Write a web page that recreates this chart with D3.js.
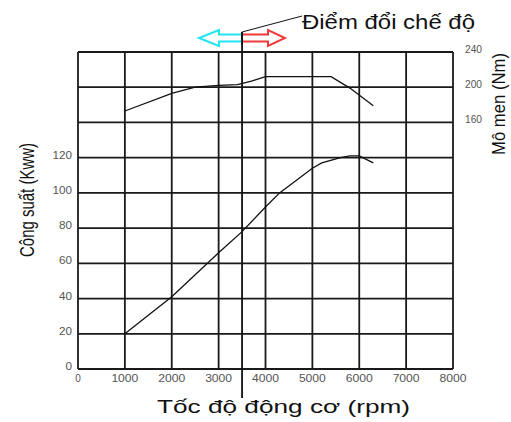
<!DOCTYPE html>
<html><head><meta charset="utf-8">
<script src="https://cdn.jsdelivr.net/npm/d3@7"></script>
<style>body{margin:0;background:#fff}svg{display:block;font-family:"Liberation Sans",Arial,sans-serif}</style>
</head><body><svg id="c" width="511" height="422"></svg>
<script>
const powerRpm = [1000,2000,3000,3500,4000,4300,5000,5200,5600,5800,6000,6300];
const powerKw  = [20,41,66,78,92,100,114,117,120,121,121,117];
const torqueRpm = [1000,2000,2500,3000,3400,3700,4000,5400,5800,6300];
const torqueNm  = [173,193,200,202,203,207,212,212,199,179];
const xTicks = [0,1000,2000,3000,4000,5000,6000,7000,8000];
const yLeftTicks = [0,20,40,60,80,100,120];
const yGrid = [0,20,40,60,80,100,120,140,160,180];
const yRightTicks = [160,200,240];
const switchRpm = 3500;

const svg = d3.select("#c");
const x = d3.scaleLinear().domain([0,8000]).range([78,453]);
const yL = d3.scaleLinear().domain([0,180]).range([369,52]);
const yR = d3.scaleLinear().domain([-120,240]).range([369,52]);

const grid = svg.append("g").attr("stroke","#1a1a1a").attr("stroke-width",1.8);
xTicks.forEach(t=>grid.append("line").attr("x1",x(t)).attr("x2",x(t)).attr("y1",yL(180)).attr("y2",yL(0)));
yGrid.forEach(t=>grid.append("line").attr("x1",x(0)).attr("x2",x(8000)).attr("y1",yL(t)).attr("y2",yL(t)));

// tick labels
const tl = svg.append("g").attr("fill","#555").attr("font-size",10);
xTicks.forEach(t=>{
  const s = tl.append("text").attr("x",x(t)).attr("y",yL(0)+13).attr("text-anchor","middle").text(t);
  if (t>0) s.attr("textLength",27).attr("lengthAdjust","spacingAndGlyphs");
});
yLeftTicks.forEach(t=>{
  tl.append("text").attr("x",72).attr("y",yL(t)+1).attr("text-anchor","end").text(t)
    .attr("textLength",String(t).length*6.5).attr("lengthAdjust","spacingAndGlyphs");
});
yRightTicks.forEach(t=>{
  tl.append("text").attr("x",465).attr("y",yR(t)+1).text(t)
    .attr("textLength",17).attr("lengthAdjust","spacingAndGlyphs");
});

// curves
const line = d3.line().x(d=>x(d[0]));
svg.append("path").datum(powerRpm.map((r,i)=>[r,powerKw[i]]))
  .attr("d", line.y(d=>yL(d[1]))).attr("fill","none").attr("stroke","#111").attr("stroke-width",1.3);
svg.append("path").datum(torqueRpm.map((r,i)=>[r,torqueNm[i]]))
  .attr("d", d3.line().x(d=>x(d[0])).y(d=>yR(d[1]))).attr("fill","none").attr("stroke","#111").attr("stroke-width",1.3);

// switch line
const sx = x(switchRpm);
svg.append("line").attr("x1",sx).attr("x2",sx).attr("y1",32).attr("y2",398).attr("stroke","#111").attr("stroke-width",1.8);
svg.append("line").attr("x1",sx).attr("x2",302).attr("y1",32).attr("y2",16).attr("stroke","#111").attr("stroke-width",1);

// arrows (hollow)
const cy = 38;
const left = [[sx,cy-3.5],[219,cy-3.5],[219,cy-8],[199,cy],[219,cy+8],[219,cy+3.5],[sx,cy+3.5]];
const right = [[sx,cy-3.5],[268,cy-3.5],[268,cy-8],[285,cy],[268,cy+8],[268,cy+3.5],[sx,cy+3.5]];
svg.append("path").attr("d","M"+left.join("L")).attr("fill","none").attr("stroke","#22e5f0").attr("stroke-width",2);
svg.append("path").attr("d","M"+right.join("L")).attr("fill","none").attr("stroke","#f03a3a").attr("stroke-width",2);
svg.append("line").attr("x1",sx).attr("x2",sx).attr("y1",32).attr("y2",45).attr("stroke","#111").attr("stroke-width",1.8);

// titles
svg.append("text").attr("x",302).attr("y",29).attr("font-size",20).attr("fill","#111")
  .attr("textLength",173).attr("lengthAdjust","spacingAndGlyphs").text("Điểm đổi chế độ");
svg.append("text").attr("x",157).attr("y",413).attr("font-size",19).attr("fill","#111")
  .attr("textLength",253).attr("lengthAdjust","spacingAndGlyphs").text("Tốc độ động cơ (rpm)");
svg.append("text").attr("transform","translate(34,200) rotate(-90)").attr("text-anchor","middle")
  .attr("font-size",20).attr("fill","#111").attr("textLength",114).attr("lengthAdjust","spacingAndGlyphs").text("Công suất (Kww)");
svg.append("text").attr("transform","translate(505,104) rotate(-90)").attr("text-anchor","middle")
  .attr("font-size",18).attr("fill","#111").attr("textLength",102).attr("lengthAdjust","spacingAndGlyphs").text("Mô men (Nm)");
</script></body></html>
